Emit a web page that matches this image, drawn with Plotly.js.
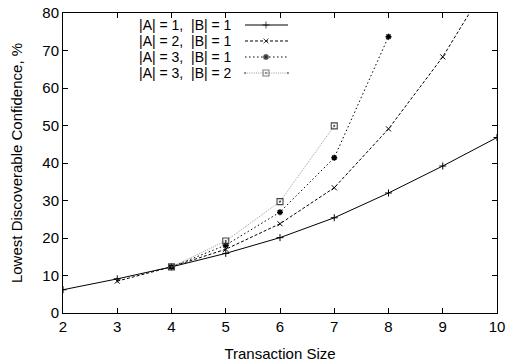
<!DOCTYPE html>
<html>
<head>
<meta charset="utf-8">
<script src="https://cdn.plot.ly/plotly-3.0.1.min.js"></script>
<style>html,body{margin:0;padding:0;background:#fff;}#chart{width:506px;height:364px;}</style>
</head>
<body>
<div id="chart"></div>
<script>
// Data
var xA1B1 = [2, 3, 4, 5, 6, 7, 8, 9, 10];
var yA1B1 = [6.2, 9.1, 12.3, 15.9, 20.1, 25.4, 32.0, 39.2, 46.8];
var xA2B1 = [3, 4, 5, 6, 7, 8, 9, 10];
var yA2B1 = [8.5, 12.3, 17.0, 23.8, 33.4, 49.1, 68.3, 92.0];
var xA3B1 = [4, 5, 6, 7, 8];
var yA3B1 = [12.3, 18.1, 26.9, 41.4, 73.7];
var xA3B2 = [4, 5, 6, 7];
var yA3B2 = [12.3, 19.2, 29.7, 49.9];
var seriesNames = ['|A| = 1,  |B| = 1', '|A| = 2,  |B| = 1', '|A| = 3,  |B| = 1', '|A| = 3,  |B| = 2'];
var xTicks = [2, 3, 4, 5, 6, 7, 8, 9, 10];
var yTicks = [0, 10, 20, 30, 40, 50, 60, 70, 80];

var styles = [
  {line: {color: '#000', width: 1, dash: 'solid'}, marker: {symbol: 'cross-thin-open', size: 5, color: '#000', line: {width: 1, color: '#000'}}},
  {line: {color: '#000', width: 1, dash: '3px,2px'}, marker: {symbol: 'x-thin-open', size: 5, color: '#000', line: {width: 1, color: '#000'}}},
  {line: {color: '#000', width: 1, dash: '1.5px,2.5px'}, marker: {symbol: 'asterisk-open', size: 5, color: '#000', line: {width: 1.5, color: '#000'}}},
  {line: {color: '#999', width: 1, dash: '1px,1.2px'}, marker: {symbol: 'square-open-dot', size: 6, color: '#444', line: {width: 1.1, color: '#444'}}}
];
var xs = [xA1B1, xA2B1, xA3B1, xA3B2];
var ys = [yA1B1, yA2B1, yA3B1, yA3B2];

var traces = [];
for (var i = 0; i < 4; i++) {
  traces.push({x: xs[i], y: ys[i], type: 'scatter', mode: 'lines+markers', name: seriesNames[i],
    line: styles[i].line, marker: styles[i].marker, cliponaxis: true, showlegend: false});
}
// custom legend keys (gnuplot style: label then sample)
var legRows = [0.96, 0.9067, 0.8533, 0.80];
var annotations = [];
for (var j = 0; j < 4; j++) {
  traces.push({x: [0.4194, 0.4677, 0.5184], y: [legRows[j], legRows[j], legRows[j]], xaxis: 'x2', yaxis: 'y2',
    type: 'scatter', mode: 'lines+markers', showlegend: false, hoverinfo: 'skip',
    line: styles[j].line,
    marker: Object.assign({}, styles[j].marker, {size: [0, styles[j].marker.size, 0]})});
  annotations.push({xref: 'paper', yref: 'paper', x: 0.3917, y: legRows[j], xanchor: 'right', yanchor: 'middle',
    text: seriesNames[j].replace(/  /g, '&nbsp; '), showarrow: false, borderpad: 0,
    font: {family: 'Liberation Sans, Arial, sans-serif', size: 14, color: '#000'}});
}

var font = {family: 'Liberation Sans, Arial, sans-serif', size: 15, color: '#000'};
var layout = {
  width: 506, height: 364,
  margin: {l: 63, r: 9, t: 13, b: 51, pad: 0},
  paper_bgcolor: '#fff', plot_bgcolor: '#fff',
  font: font,
  showlegend: false,
  xaxis: {range: [2, 10], tickvals: xTicks, ticktext: xTicks.map(String), ticks: 'inside', ticklen: 5, tickcolor: '#000',
    showline: true, linecolor: '#000', linewidth: 1, mirror: 'ticks', showgrid: false, zeroline: false,
    tickfont: font, title: {text: 'Transaction Size', font: font, standoff: 14}},
  yaxis: {range: [0, 80], tickvals: yTicks, ticktext: yTicks.map(String), ticks: 'inside', ticklen: 5, tickcolor: '#000',
    showline: true, linecolor: '#000', linewidth: 1, mirror: 'ticks', showgrid: false, zeroline: false,
    tickfont: font, title: {text: 'Lowest Discoverable Confidence, %', font: font, standoff: 16}},
  xaxis2: {overlaying: 'x', range: [0, 1], visible: false, anchor: 'y2'},
  yaxis2: {overlaying: 'y', range: [0, 1], visible: false, anchor: 'x2'},
  annotations: annotations
};
Plotly.newPlot('chart', traces, layout, {displayModeBar: false, staticPlot: true});
</script>
</body>
</html>
